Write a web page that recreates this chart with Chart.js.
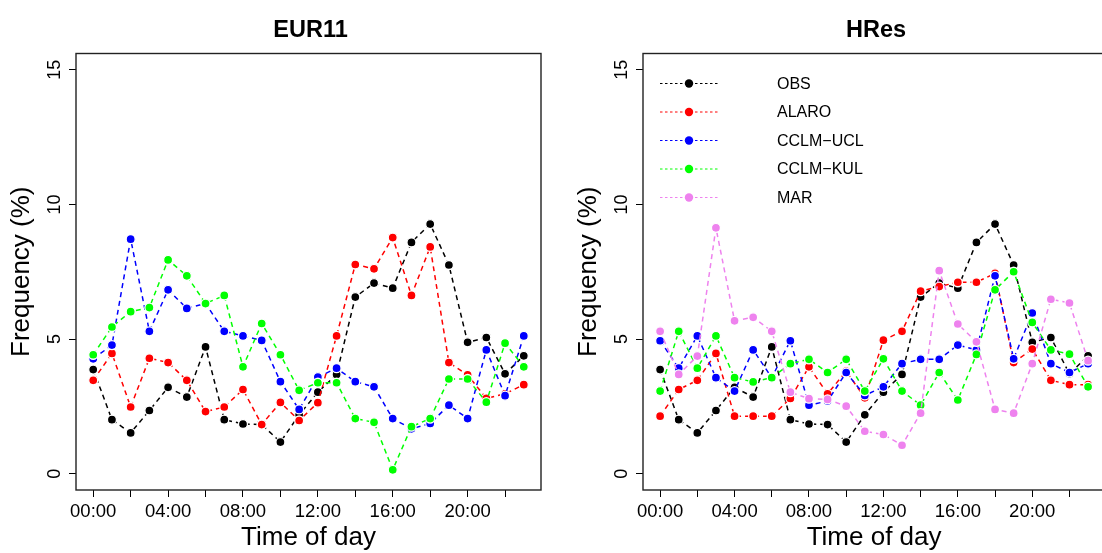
<!DOCTYPE html>
<html>
<head>
<meta charset="utf-8">
<script src="https://cdn.jsdelivr.net/npm/chart.js@4/dist/chart.umd.min.js"></script>
<style>
  html, body { margin: 0; padding: 0; background: #fff; overflow: hidden; }
  #wrap { position: relative; width: 1102px; height: 553px; overflow: hidden; }
  canvas { position: absolute; top: 0; }
  #eur { left: 0; }
  #hres { left: 551px; }
</style>
</head>
<body>
<div id="wrap">
  <canvas id="eur" width="551" height="553"></canvas>
  <canvas id="hres" width="560" height="553"></canvas>
</div>
<script>
    // hours of the day and axis ticks
    const hours = [0, 1, 2, 3, 4, 5, 6, 7, 8, 9, 10, 11, 12, 13, 14, 15, 16, 17, 18, 19, 20, 21, 22, 23];
    const xTickValues = [0, 2, 4, 6, 8, 10, 12, 14, 16, 18, 20, 22];
    const xTickLabels = ['00:00', '', '04:00', '', '08:00', '', '12:00', '', '16:00', '', '20:00', ''];
    const yTickValues = [0, 5, 10, 15];
    const seriesNames = ['OBS', 'ALARO', 'CCLM\u2212UCL', 'CCLM\u2212KUL', 'MAR'];

    // frequency (%) per hour
    const obs = [3.87, 2.01, 1.52, 2.35, 3.21, 2.85, 4.71, 2.01, 1.85, 1.83, 1.18, 2.19, 3.03, 3.69, 6.56, 7.08, 6.89, 8.59, 9.27, 7.75, 4.88, 5.06, 3.71, 4.38];

    const eurAlaro = [3.47, 4.47, 2.48, 4.29, 4.13, 3.47, 2.31, 2.48, 3.13, 1.83, 2.65, 1.98, 2.64, 5.12, 7.77, 7.61, 8.77, 6.62, 8.42, 4.13, 3.67, 2.80, 2.97, 3.31];
    const eurUcl = [4.27, 4.78, 8.71, 5.29, 6.83, 6.14, 6.32, 5.29, 5.12, 4.95, 3.42, 2.39, 3.59, 3.92, 3.42, 3.23, 2.05, 1.67, 1.87, 2.55, 2.05, 4.60, 2.90, 5.12];
    const eurKul = [4.42, 5.45, 6.02, 6.17, 7.94, 7.35, 6.32, 6.62, 3.97, 5.58, 4.42, 3.10, 3.38, 3.38, 2.05, 1.91, 0.15, 1.75, 2.05, 3.52, 3.52, 2.66, 4.85, 3.97];

    const hresAlaro = [2.14, 3.13, 3.47, 4.47, 2.14, 2.14, 2.14, 2.80, 3.97, 2.97, 3.81, 2.82, 4.96, 5.29, 6.78, 6.95, 7.11, 7.11, 7.44, 4.13, 4.63, 3.47, 3.31, 3.31];
    const hresUcl = [4.94, 3.92, 5.12, 3.57, 3.07, 4.60, 3.57, 4.94, 2.55, 2.70, 3.76, 2.91, 3.23, 4.09, 4.25, 4.25, 4.78, 4.60, 7.35, 4.27, 5.97, 4.09, 3.76, 4.09];
    const hresKul = [3.07, 5.29, 3.92, 5.12, 3.57, 3.41, 3.57, 4.09, 4.25, 3.76, 4.25, 3.07, 4.27, 3.07, 2.55, 3.76, 2.74, 4.43, 6.83, 7.50, 5.62, 4.60, 4.44, 3.23];
    const hresMar = [5.29, 3.69, 4.37, 9.13, 5.68, 5.81, 5.29, 3.03, 2.79, 2.76, 2.51, 1.58, 1.46, 1.06, 2.25, 7.54, 5.56, 4.90, 2.39, 2.25, 4.09, 6.48, 6.34, 4.20];

    const colors = ['#000000', '#ff0000', '#0000ff', '#00ff00', '#ee82ee'];
    const FONT = '"Liberation Sans", Arial, Helvetica, sans-serif';

    // box, titles, rotated y labels and the legend (R style)
    const framePlugin = {
        id: 'frame',
        afterDraw(chart, args, opts) {
            const ctx = chart.ctx;
            const a = chart.chartArea;
            const yScale = chart.scales.y;
            const cx = (a.left + a.right) / 2;
            ctx.save();
            ctx.strokeStyle = '#222';
            ctx.lineWidth = 1.4;
            ctx.strokeRect(a.left, a.top, a.right - a.left, a.bottom - a.top);

            ctx.fillStyle = '#000';
            ctx.textAlign = 'center';
            ctx.textBaseline = 'alphabetic';
            ctx.font = 'bold 23.5px ' + FONT;
            ctx.fillText(opts.title, cx + 2, 37);

            ctx.font = '26px ' + FONT;
            ctx.fillText('Time of day', cx, 545);

            // y tick labels, rotated like R
            ctx.font = '18px ' + FONT;
            yTickValues.forEach(v => {
                ctx.save();
                ctx.translate(a.left - 16, yScale.getPixelForValue(v));
                ctx.rotate(-Math.PI / 2);
                ctx.fillText(String(v), 0, 0);
                ctx.restore();
            });

            ctx.save();
            ctx.font = '26px ' + FONT;
            ctx.translate(a.left - 47, (a.top + a.bottom) / 2);
            ctx.rotate(-Math.PI / 2);
            ctx.fillText('Frequency (%)', 0, 0);
            ctx.restore();

            if (opts.legend) {
                ctx.font = '16px ' + FONT;
                ctx.textAlign = 'left';
                ctx.textBaseline = 'middle';
                chart.data.datasets.forEach((ds, i) => {
                    const y = a.top + 30 + i * 28.5;
                    ctx.strokeStyle = ds.borderColor;
                    ctx.lineWidth = 1;
                    ctx.setLineDash([2.5, 2.5]);
                    ctx.beginPath();
                    ctx.moveTo(a.left + 17, y);
                    ctx.lineTo(a.left + 75, y);
                    ctx.stroke();
                    ctx.setLineDash([]);
                    ctx.fillStyle = ds.borderColor;
                    ctx.beginPath();
                    ctx.arc(a.left + 46, y, 4.2, 0, Math.PI * 2);
                    ctx.fill();
                    ctx.fillStyle = '#000';
                    ctx.fillText(ds.label, a.left + 134, y + 1);
                });
            }
            ctx.restore();
        }
    };

    function makeChart(id, title, series, legend, axisWidth, padRight) {
        const datasets = series.map((vals, i) => ({
            label: seriesNames[i],
            data: hours.map((h, j) => ({ x: h, y: vals[j] })),
            borderColor: colors[i],
            backgroundColor: colors[i],
            pointBackgroundColor: colors[i],
            pointBorderColor: '#ffffff',
            pointBorderWidth: 1.3,
            pointRadius: 4.5,
            borderWidth: 1.5,
            borderDash: [5, 4],
            tension: 0,
            fill: false,
            order: series.length - i
        }));

        return new Chart(document.getElementById(id), {
            type: 'line',
            data: { datasets: datasets },
            options: {
                responsive: false,
                animation: false,
                events: [],
                layout: { padding: { top: 53.5, right: padRight, left: 0, bottom: 0 } },
                plugins: {
                    legend: { display: false },
                    tooltip: { enabled: false },
                    frame: { title: title, legend: legend }
                },
                scales: {
                    x: {
                        type: 'linear',
                        min: -0.92,
                        max: 23.92,
                        afterBuildTicks: s => { s.ticks = xTickValues.map(v => ({ value: v })); },
                        afterFit: s => { s.height = 63; },
                        ticks: {
                            callback: v => xTickLabels[xTickValues.indexOf(v)],
                            autoSkip: false,
                            maxRotation: 0,
                            padding: 4,
                            color: '#000',
                            font: { family: FONT, size: 18.5 }
                        },
                        grid: { drawOnChartArea: false, drawTicks: true, tickLength: 7, color: '#000' },
                        border: { display: false }
                    },
                    y: {
                        min: -0.6,
                        max: 15.6,
                        afterBuildTicks: s => { s.ticks = yTickValues.map(v => ({ value: v })); },
                        afterFit: s => { s.width = axisWidth; },
                        ticks: { display: false },
                        grid: { drawOnChartArea: false, drawTicks: true, tickLength: 7, color: '#000' },
                        border: { display: false }
                    }
                }
            },
            plugins: [framePlugin]
        });
    }

    makeChart('eur', 'EUR11', [obs, eurAlaro, eurUcl, eurKul], false, 76, 10);
    makeChart('hres', 'HRes', [obs, hresAlaro, hresUcl, hresKul, hresMar], true, 92, 3);
</script>
</body>
</html>
